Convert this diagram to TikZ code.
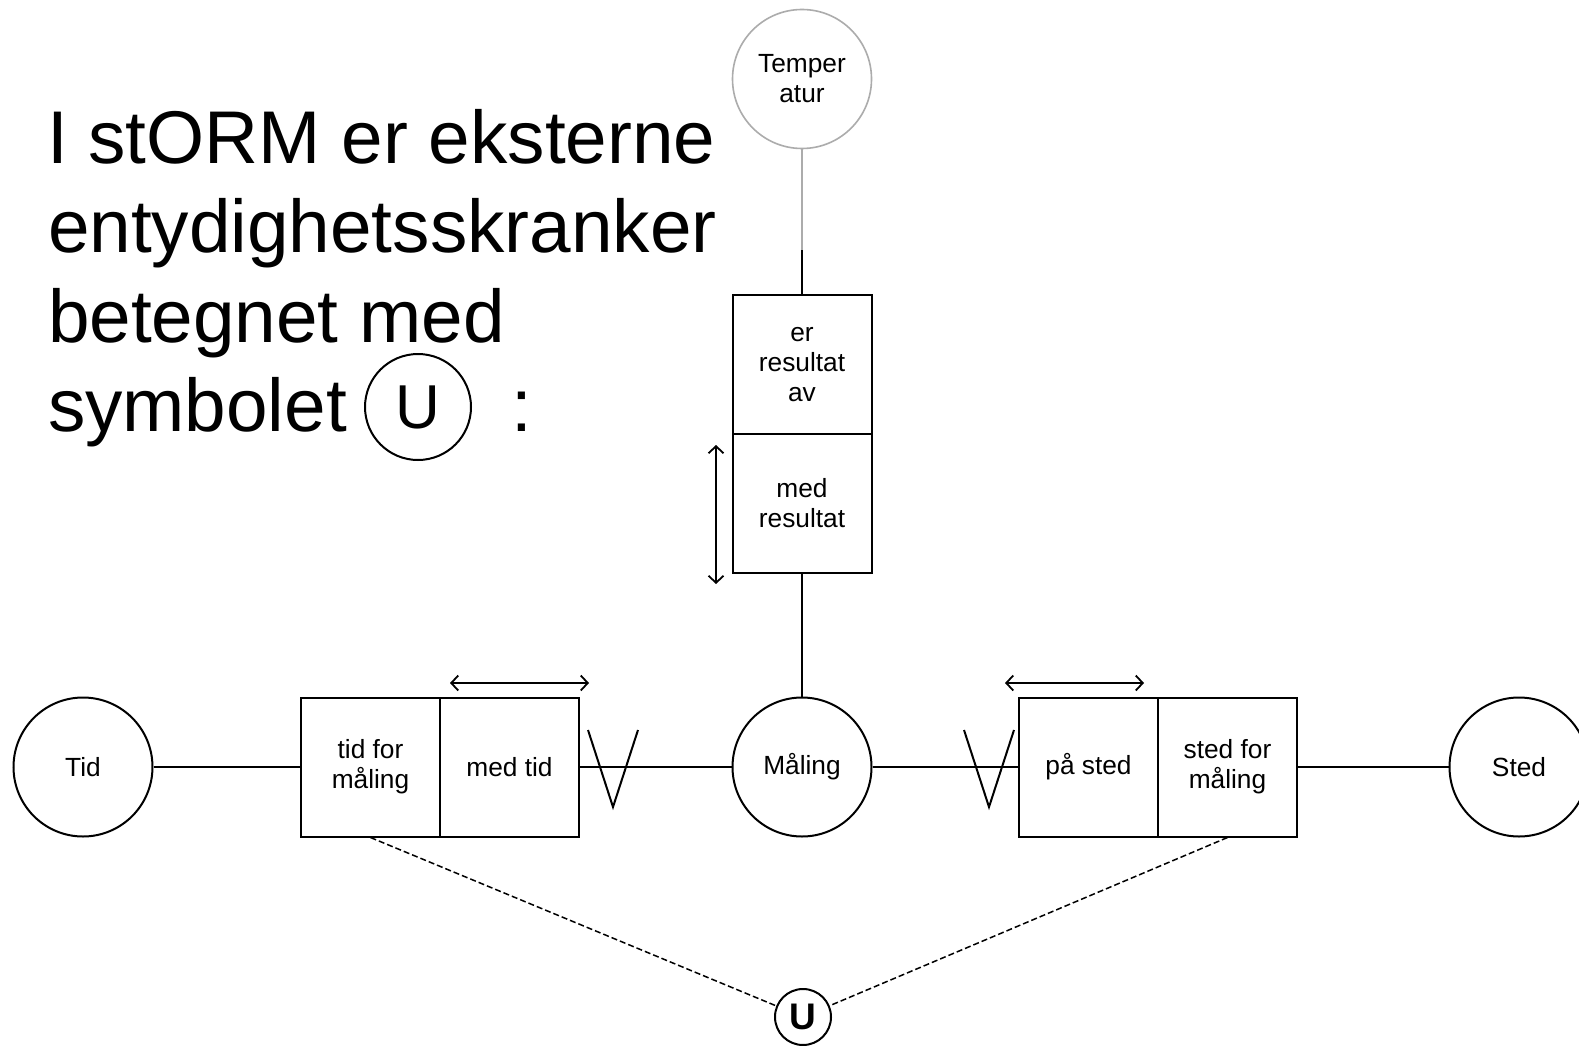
\documentclass[tikz,border=0pt]{standalone}
\usepackage{fontspec}
\setmainfont{Liberation Sans}
\usetikzlibrary{arrows.meta}
\begin{document}
\begin{tikzpicture}[x=1pt,y=-1pt,line width=2pt,
 ent/.style={circle,draw,minimum size=139pt,inner sep=0pt,font=\fontsize{26.3}{30}\selectfont,align=center},
 rolebox/.style={draw,minimum width=139pt,minimum height=139pt,inner sep=0pt,font=\fontsize{26.3}{30}\selectfont,align=center},
 big/.style={anchor=base west,inner sep=0pt,font=\fontsize{74.7}{89.5}\selectfont},
 dbl/.style={{Straight Barb[length=7pt,width=15pt]}-{Straight Barb[length=7pt,width=15pt]},line width=1.8pt},
 dashline/.style={line width=1.5pt,dash pattern=on 6pt off 3pt},
 faint/.style={draw=gray!65}]
\useasboundingbox (0,0) rectangle (1579,1046);
\clip (0,0) rectangle (1579,1046);
\fill[white] (0,0) rectangle (1579,1046);

% heading text
\node[big] (l1) at (46,163) {I stORM er eksterne};
\node[big] (l2) at (47,252) {entydighetsskranker};
\node[big] (l3) at (47,342) {betegnet med};
\node[big] (l4) at (47,431) {symbolet};
\node[circle,draw,minimum size=106pt,inner sep=0pt,font=\fontsize{62}{62}\selectfont] (usym) at (418,407) {U};
\node[big] (colon) at (510,431) {:};

% top entity and roles
\node[ent,faint,line width=1.6pt] (temp) at (802,79) {Temper\\atur};
\node[rolebox] (res) at (802,364.5) {er\\resultat\\av};
\node[rolebox] (medres) at (802,503.5) {med\\resultat};
\coordinate (tmid) at (802,250);
\draw[gray!65,line width=1.6pt] (temp) -- (tmid);
\draw (tmid) -- (res.north);

% middle row
\node[ent] (maling) at (802,767) {Måling};
\node[ent] (tid) at (83,767) {Tid};
\node[ent] (sted) at (1519,767) {Sted};
\node[rolebox] (tidfor) at (370.5,767) {tid for\\måling};
\node[rolebox] (medtid) at (509.5,767) {med tid};
\node[rolebox] (pasted) at (1088.5,767) {på sted};
\node[rolebox] (stedfor) at (1227.5,767) {sted for\\måling};

\draw (medres) -- (maling);
\draw (tid) -- (tidfor);
\draw (medtid) -- (maling);
\draw (maling) -- (pasted);
\draw (stedfor) -- (sted);

% uniqueness arrows
\coordinate (a1) at (450,683);
\coordinate (a2) at (589,683);
\draw[dbl] (a1) -- (a2);
\coordinate (b1) at (1005,683);
\coordinate (b2) at (1144,683);
\draw[dbl] (b1) -- (b2);
\coordinate (c1) at (716,445);
\coordinate (c2) at (716,584);
\draw[dbl] (c1) -- (c2);

% V marks
\draw (588,730) -- (613,807) -- (638,730);
\draw (964,730) -- (989,807) -- (1014,730);

% external uniqueness constraint
\node[circle,draw,minimum size=56pt,inner sep=0pt,font=\bfseries\fontsize{37}{37}\selectfont] (uc) at (803,1017) {U};
\draw[dashline] (tidfor.south) -- (uc);
\draw[dashline] (stedfor.south) -- (uc);
\end{tikzpicture}
\end{document}
